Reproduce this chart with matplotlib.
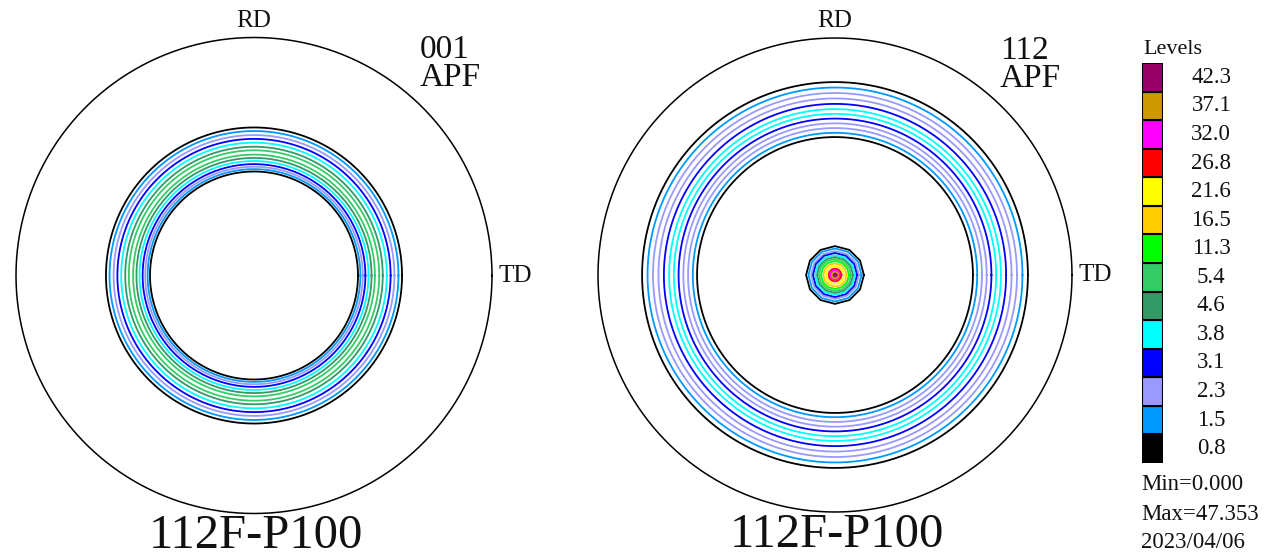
import numpy as np
import matplotlib
matplotlib.use("Agg")
import matplotlib.pyplot as plt

plt.rcParams['font.family'] = ['Liberation Serif', 'DejaVu Serif']

# contour levels and their colours (legend, bottom -> top)
levels = [0.8, 1.5, 2.3, 3.1, 3.8, 4.6, 5.4, 11.3, 16.5, 21.6, 26.8, 32.0, 37.1, 42.3]
level_colors = ['#000000', '#0099ff', '#9999ff', '#0000ff', '#00ffff', '#339966', '#33cc66',
                '#00ff00', '#ffcc00', '#ffff00', '#ff0000', '#ff00ff', '#cc9900', '#990066']

# 001 pole figure: ring radii (fraction of pole radius) and level of each contour
rings_001_r = [0.622, 0.607, 0.590, 0.574, 0.558, 0.541, 0.526, 0.508, 0.494, 0.481, 0.468, 0.457, 0.447, 0.437]
rings_001_lv = [0.8, 1.5, 2.3, 3.1, 3.8, 4.6, 5.4, 5.4, 4.6, 3.8, 3.1, 2.3, 1.5, 0.8]

# 112 pole figure: big ring + central peak
rings_112_r = [0.814, 0.791, 0.768, 0.745, 0.722, 0.700, 0.680, 0.660, 0.640, 0.620, 0.600, 0.582]
rings_112_lv = [0.8, 1.5, 2.3, 2.3, 3.1, 3.8, 3.8, 3.1, 2.3, 2.3, 1.5, 0.8]
peak_112_r = [0.122, 0.112, 0.101, 0.093, 0.084, 0.076, 0.068, 0.059, 0.049, 0.038, 0.027, 0.019, 0.013, 0.006]
peak_112_lv = levels

min_val, max_val = 0.000, 47.353
date = '2023/04/06'

W, H = 1265, 557
fig = plt.figure(figsize=(W / 100, H / 100), dpi=100)
ink = '#111111'


def color_of(v):
    return level_colors[levels.index(v)]


def pole_axes(cx, cy, r):
    ax = fig.add_axes([(cx - r) / W, (H - cy - r) / H, 2 * r / W, 2 * r / H])
    ax.set_xlim(-1, 1)
    ax.set_ylim(-1, 1)
    ax.axis('off')
    return ax


def ring(ax, rad, col, n=360, lw=1.3):
    t = np.linspace(0, 2 * np.pi, n + 1)
    ax.plot(rad * np.cos(t), rad * np.sin(t), color=col, lw=lw, clip_on=False)


def draw_pole(ax, label, figname):
    ring(ax, 1.0, 'black', lw=1.1)
    ax.text(0, 1.07, 'RD', ha='center', va='center', fontsize=18, color=ink)
    ax.text(1.028, 0.0, 'TD', ha='left', va='center', fontsize=18, color=ink)
    ax.text(0.695, 0.948, label, ha='left', va='center', fontsize=24, color=ink)
    ax.text(0.695, 0.83, 'APF', ha='left', va='center', fontsize=24, color=ink)
    ax.text(0.01, -1.095, figname, ha='center', va='center', fontsize=35, color=ink)


# left: 001
ax1 = pole_axes(254, 275.5, 238)
draw_pole(ax1, '001', '112F-P100')
for r, v in zip(rings_001_r, rings_001_lv):
    ring(ax1, r, color_of(v))

# right: 112
ax2 = pole_axes(835, 275, 237)
draw_pole(ax2, '112', '112F-P100')
for r, v in zip(rings_112_r, rings_112_lv):
    ring(ax2, r, color_of(v))
for r, v in zip(peak_112_r, peak_112_lv):
    ring(ax2, r, color_of(v), n=12, lw=1.3)

# legend
lax = fig.add_axes([1142 / W, (H - 463) / H, 21 / W, 400 / H])
lax.barh(range(len(levels)), 1, height=1, left=0, color=level_colors,
         edgecolor='black', linewidth=1.5)
lax.set_xlim(0, 1)
lax.set_ylim(-0.5, len(levels) - 0.5)
lax.axis('off')
for i, v in enumerate(levels):
    lax.text(3.3, i, f'{v:.1f}', ha='center', va='center', fontsize=16.5, color=ink)

fig.text(1143 / W, 1 - 50 / H, 'Levels', ha='left', va='center', fontsize=16, color=ink)
fig.text(1141 / W, 1 - 484 / H, f'Min={min_val:.3f}', ha='left', va='center', fontsize=16.5, color=ink)
fig.text(1141 / W, 1 - 514 / H, f'Max={max_val:.3f}', ha='left', va='center', fontsize=16.5, color=ink)
fig.text(1141 / W, 1 - 543 / H, date, ha='left', va='center', fontsize=16.5, color=ink)

fig.savefig('out.png', dpi=100, facecolor='white')
